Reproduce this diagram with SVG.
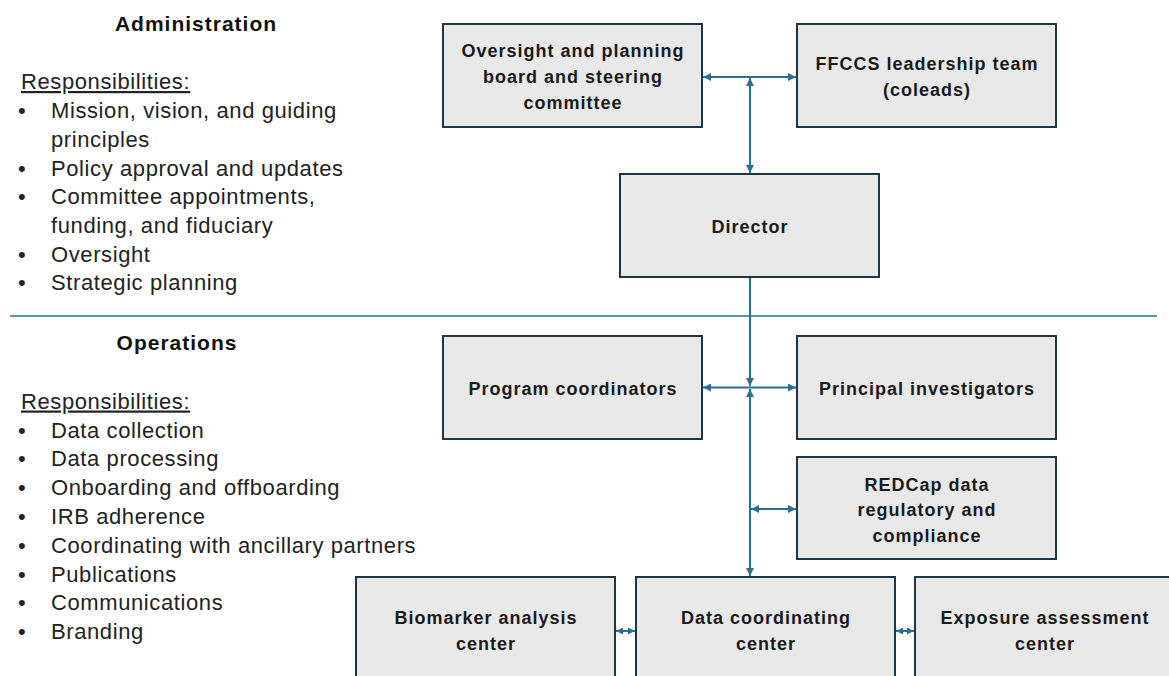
<svg xmlns="http://www.w3.org/2000/svg" width="1169" height="676" viewBox="0 0 1169 676">
<style>
.box{fill:#e8e8e8;stroke:#1d3545;stroke-width:2}
.bt{font-family:"Liberation Sans",Arial,sans-serif;font-weight:bold;font-size:18px;letter-spacing:1px;fill:#1a1a1a;text-anchor:middle}
.hd{font-family:"Liberation Sans",Arial,sans-serif;font-weight:bold;font-size:21px;letter-spacing:1px;fill:#111;text-anchor:middle}
.lt{font-family:"Liberation Sans",Arial,sans-serif;font-size:22px;letter-spacing:0.6px;fill:#222}
.ln{stroke:#2a6f97;stroke-width:2;fill:none}
</style>
<defs>
<marker id="ah" viewBox="0 0 10 10" refX="10" refY="5" markerWidth="9" markerHeight="8" markerUnits="userSpaceOnUse" orient="auto-start-reverse">
<path d="M0,0 L10,5 L0,10 z" fill="#2a6f97"/>
</marker>
<marker id="as" viewBox="0 0 10 10" refX="10" refY="5" markerWidth="7" markerHeight="7" markerUnits="userSpaceOnUse" orient="auto-start-reverse">
<path d="M0,0 L10,5 L0,10 z" fill="#2a6f97"/>
</marker>
</defs>

<g id="admin-text">
<text class="hd" x="196" y="31">Administration</text>
<text class="lt" x="21" y="89" text-decoration="underline">Responsibilities:</text>
<text class="lt" x="18" y="118">•</text><text class="lt" x="51" y="118">Mission, vision, and guiding</text>
<text class="lt" x="51" y="146.8">principles</text>
<text class="lt" x="18" y="175.5">•</text><text class="lt" x="51" y="175.5">Policy approval and updates</text>
<text class="lt" x="18" y="204.2">•</text><text class="lt" x="51" y="204.2">Committee appointments,</text>
<text class="lt" x="51" y="232.9">funding, and fiduciary</text>
<text class="lt" x="18" y="261.6">•</text><text class="lt" x="51" y="261.6">Oversight</text>
<text class="lt" x="18" y="290.3">•</text><text class="lt" x="51" y="290.3">Strategic planning</text>
</g>

<line x1="10" y1="316" x2="1157" y2="316" stroke="#2a6f97" stroke-width="1.5"/>

<g id="ops-text">
<text class="hd" x="177" y="350">Operations</text>
<text class="lt" x="21" y="408.5" text-decoration="underline">Responsibilities:</text>
<text class="lt" x="18" y="437.5">•</text><text class="lt" x="51" y="437.5">Data collection</text>
<text class="lt" x="18" y="466.3">•</text><text class="lt" x="51" y="466.3">Data processing</text>
<text class="lt" x="18" y="495.1">•</text><text class="lt" x="51" y="495.1">Onboarding and offboarding</text>
<text class="lt" x="18" y="523.9">•</text><text class="lt" x="51" y="523.9">IRB adherence</text>
<text class="lt" x="18" y="552.7">•</text><text class="lt" x="51" y="552.7">Coordinating with ancillary partners</text>
<text class="lt" x="18" y="581.5">•</text><text class="lt" x="51" y="581.5">Publications</text>
<text class="lt" x="18" y="610.3">•</text><text class="lt" x="51" y="610.3">Communications</text>
<text class="lt" x="18" y="639.1">•</text><text class="lt" x="51" y="639.1">Branding</text>
</g>

<g id="oversight">
<rect class="box" x="443" y="24" width="259" height="103"/>
<text class="bt" x="573" y="56.5">Oversight and planning</text>
<text class="bt" x="573" y="82.5">board and steering</text>
<text class="bt" x="573" y="108.5">committee</text>
</g>
<g id="ffccs">
<rect class="box" x="797" y="24" width="259" height="103"/>
<text class="bt" x="927" y="69.5">FFCCS leadership team</text>
<text class="bt" x="927" y="95.5">(coleads)</text>
</g>
<g id="director">
<rect class="box" x="620" y="174" width="259" height="103"/>
<text class="bt" x="750" y="232.5">Director</text>
</g>
<g id="program-coordinators">
<rect class="box" x="443" y="336" width="259" height="103"/>
<text class="bt" x="573" y="394.5">Program coordinators</text>
</g>
<g id="principal-investigators">
<rect class="box" x="797" y="336" width="259" height="103"/>
<text class="bt" x="927" y="394.5">Principal investigators</text>
</g>
<g id="redcap">
<rect class="box" x="797" y="457" width="259" height="102"/>
<text class="bt" x="927" y="490.5">REDCap data</text>
<text class="bt" x="927" y="515.5">regulatory and</text>
<text class="bt" x="927" y="541.5">compliance</text>
</g>
<g id="biomarker">
<rect class="box" x="356" y="577" width="259" height="110"/>
<text class="bt" x="486" y="623.5">Biomarker analysis</text>
<text class="bt" x="486" y="649.5">center</text>
</g>
<g id="data-coordinating">
<rect class="box" x="636" y="577" width="259" height="110"/>
<text class="bt" x="766" y="623.5">Data coordinating</text>
<text class="bt" x="766" y="649.5">center</text>
</g>
<g id="exposure">
<rect class="box" x="915" y="577" width="270" height="110"/>
<text class="bt" x="1045" y="623.5">Exposure assessment</text>
<text class="bt" x="1045" y="649.5">center</text>
</g>

<g id="connectors">
<line class="ln" x1="703" y1="77" x2="796" y2="77" marker-start="url(#ah)" marker-end="url(#ah)"/>
<line class="ln" x1="750" y1="78" x2="750" y2="173" marker-start="url(#ah)" marker-end="url(#ah)"/>
<line class="ln" x1="750" y1="278" x2="750" y2="386" marker-end="url(#ah)"/>
<line class="ln" x1="703" y1="387.5" x2="796" y2="387.5" marker-start="url(#ah)" marker-end="url(#ah)"/>
<line class="ln" x1="750" y1="389" x2="750" y2="576" marker-start="url(#ah)" marker-end="url(#ah)"/>
<line class="ln" x1="751" y1="509" x2="796" y2="509" marker-start="url(#ah)" marker-end="url(#ah)"/>
<line class="ln" x1="616" y1="631" x2="635" y2="631" marker-start="url(#as)" marker-end="url(#as)"/>
<line class="ln" x1="896" y1="631" x2="914" y2="631" marker-start="url(#as)" marker-end="url(#as)"/>
</g>
</svg>
